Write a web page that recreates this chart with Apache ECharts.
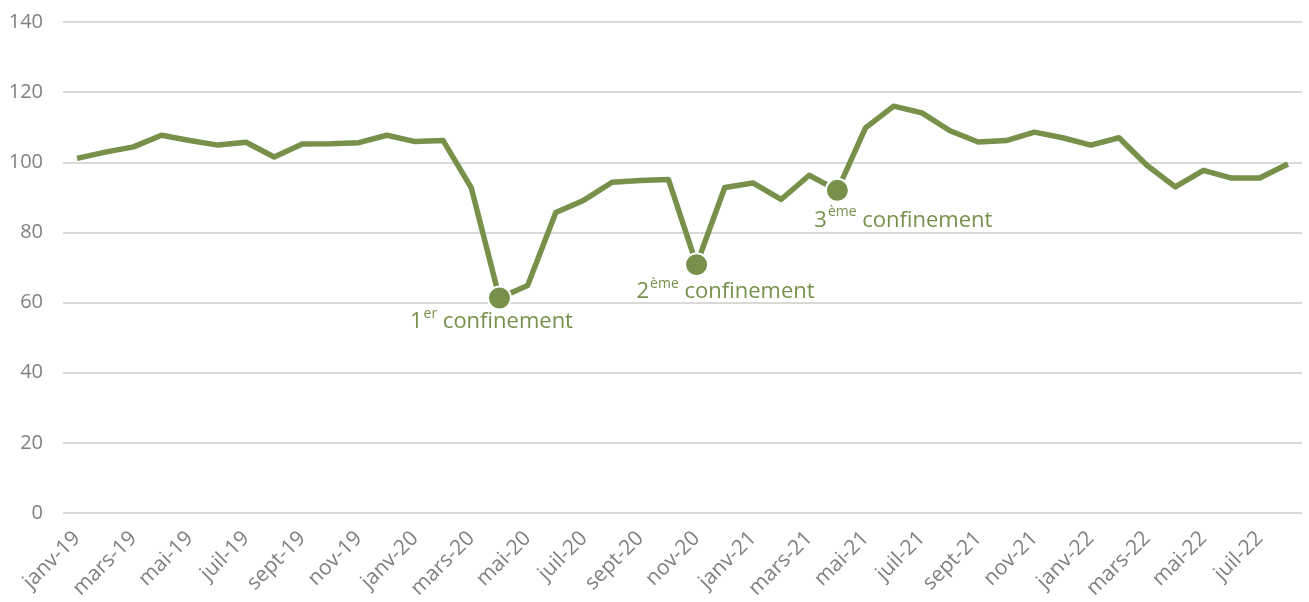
<!DOCTYPE html>
<html>
<head>
<meta charset="utf-8">
<script src="https://cdn.jsdelivr.net/npm/echarts@6/dist/echarts.min.js"></script>
<style>
  html, body { margin: 0; padding: 0; background: #fff; }
  #chart { width: 1309px; height: 602px; }
</style>
</head>
<body>
<div id="chart"></div>
<script>
// mois de janv-19 à août-22
const months = ['janv', 'févr', 'mars', 'avr', 'mai', 'juin', 'juil', 'août', 'sept', 'oct', 'nov', 'déc']
const years = ['19', '20', '21', '22']
const categories = []
years.forEach(y => months.forEach(m => categories.push(m + '-' + y)))
categories.splice(44) // stop at août-22

const values = [
  101.1, 102.9, 104.4, 107.7, 106.2, 104.9, 105.7, 101.5, 105.2, 105.3, 105.6, 107.7,
  105.9, 106.2, 92.7, 61.3, 64.9, 85.7, 89.2, 94.3, 94.8, 95.1, 70.8, 92.8,
  94.1, 89.4, 96.3, 92.0, 109.8, 116.0, 114.1, 109.0, 105.8, 106.2, 108.6, 107.0,
  104.9, 107.0, 99.1, 93.0, 97.7, 95.5, 95.5, 99.5
]

// confinements : index du mois, numéro, exposant
const lockdowns = [
  { index: 15, num: '1', sup: 'er', offset: [-8, 22] },
  { index: 22, num: '2', sup: 'ème', offset: [29, 25] },
  { index: 27, num: '3', sup: 'ème', offset: [66, 28] }
]

const yTicks = [0, 20, 40, 60, 80, 100, 120, 140]

const green = '#77904a'
const font = 'Open Sans'

const seriesData = values.map((v, i) => {
  const lk = lockdowns.find(l => l.index === i)
  if (!lk) return { value: v, symbol: 'none' }
  return {
    value: v,
    symbol: 'circle',
    symbolSize: 23,
    itemStyle: { color: green, borderColor: '#fff', borderWidth: 2 },
    label: {
      show: true,
      position: 'inside',
      offset: lk.offset,
      formatter: '{n|' + lk.num + '}{s|' + lk.sup + '}{t| confinement}',
      rich: {
        n: { fontFamily: font, fontSize: 22, color: green, verticalAlign: 'bottom', lineHeight: 26 },
        s: { fontFamily: font, fontSize: 14, color: green, verticalAlign: 'top', lineHeight: 26, padding: [0, 0, 6, 1] },
        t: { fontFamily: font, fontSize: 22, color: green, verticalAlign: 'bottom', lineHeight: 26 }
      }
    }
  }
})

const chart = echarts.init(document.getElementById('chart'))
chart.setOption({
  animation: false,
  grid: { left: 63, right: 7, top: 22, bottom: 89, containLabel: false },
  xAxis: {
    type: 'category',
    data: categories,
    boundaryGap: true,
    axisLine: { show: false },
    axisTick: { show: false },
    axisLabel: {
      interval: 1,
      rotate: 45,
      margin: 22,
      color: '#808080',
      fontFamily: font,
      fontSize: 21
    }
  },
  yAxis: {
    type: 'value',
    min: yTicks[0],
    max: yTicks[yTicks.length - 1],
    interval: 20,
    axisLine: { show: false },
    axisTick: { show: false },
    axisLabel: { color: '#808080', fontFamily: font, fontSize: 20, margin: 20 },
    splitLine: { lineStyle: { color: '#d9d9d9', width: 2 } }
  },
  series: [{
    type: 'line',
    data: seriesData,
    symbol: 'none',
    showAllSymbol: true,
    lineStyle: { color: green, width: 5.5, join: 'round' },
    z: 3
  }]
})
</script>
</body>
</html>
